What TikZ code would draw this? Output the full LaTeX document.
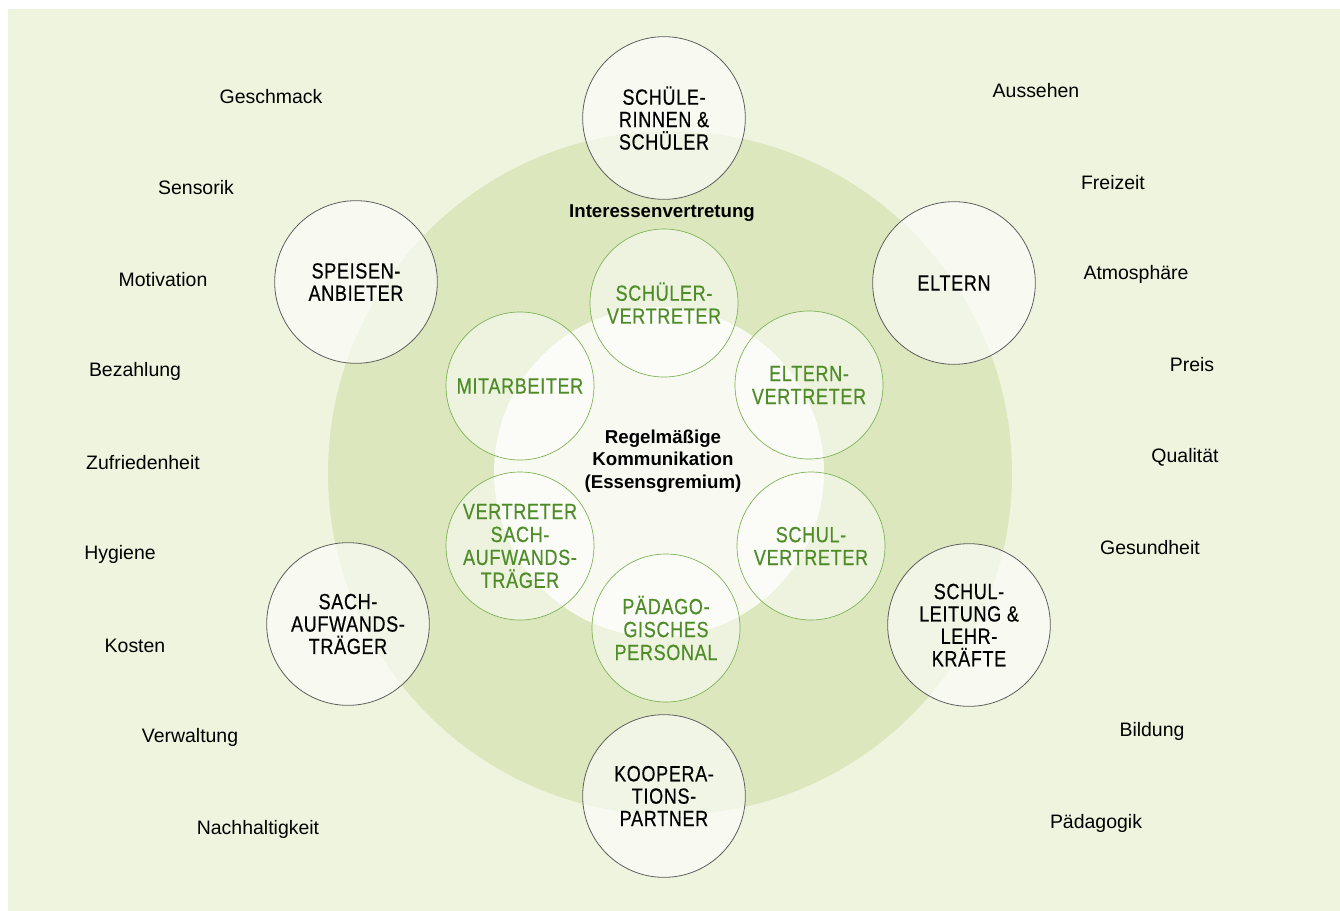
\documentclass[tikz,border=0pt]{standalone}
\usepackage{fontspec}
\setmainfont{Liberation Sans}
\newfontfamily\condfont{Liberation Sans}[FakeStretch=0.82,LetterSpace=3,FakeBold=0.4]
\definecolor{bg}{RGB}{239,244,222}
\definecolor{ring}{RGB}{220,231,190}
\definecolor{core}{RGB}{248,250,241}
\definecolor{grn}{RGB}{78,140,40}
\definecolor{grnline}{RGB}{125,175,85}
\definecolor{outline}{RGB}{95,95,95}
\begin{document}
\begin{tikzpicture}[x=0.75pt,y=-0.75pt,
 party/.style={circle, draw=outline, line width=0.6pt, fill=white, fill opacity=0.6, text opacity=1, minimum size=122pt, inner sep=0pt, align=center, font=\condfont\fontsize{16.5}{16.8}\selectfont, text=black},
 rep/.style={circle, draw=grnline, line width=0.5pt, fill=white, fill opacity=0.5, text opacity=1, minimum size=111pt, inner sep=0pt, align=center, font=\condfont\fontsize{16.5}{17.2}\selectfont, text=grn},
 topic/.style={font=\fontsize{14.6}{16}\selectfont, text=black, inner sep=0pt},
 head/.style={font=\bfseries\fontsize{14}{17}\selectfont, align=center, text=black, inner sep=0pt},
 zone/.style={circle, inner sep=0pt, draw=none}]
\useasboundingbox (0,0) rectangle (1340,911);
\fill[bg] (8,9) rectangle (1340,911);
% zones
\node[zone, fill=ring, minimum size=513pt] (ring) at (670,473) {};
\node[zone, fill=core, minimum size=247.5pt] (core) at (659,472) {};
% stakeholders
\node[party] (schueler) at (664,118) {SCHÜLE-\\RINNEN \&\\SCHÜLER};
\node[party] (speisen) at (356,282) {SPEISEN-\\ANBIETER};
\node[party] (eltern) at (954,283) {ELTERN};
\node[party] (sach) at (348,624) {SACH-\\AUFWANDS-\\TRÄGER};
\node[party] (schulltg) at (969,625) {SCHUL-\\LEITUNG \&\\LEHR-\\KRÄFTE};
\node[party] (koop) at (664,796) {KOOPERA-\\TIONS-\\PARTNER};
% representatives
\node[rep] (svt) at (664,303) {SCHÜLER-\\VERTRETER};
\node[rep] (mit) at (520,386) {MITARBEITER};
\node[rep] (evt) at (809,385) {ELTERN-\\VERTRETER};
\node[rep] (vsa) at (520,546) {VERTRETER\\SACH-\\AUFWANDS-\\TRÄGER};
\node[rep] (schvt) at (811,546) {SCHUL-\\VERTRETER};
\node[rep] (paed) at (666,628) {PÄDAGO-\\GISCHES\\PERSONAL};
% headings
\node[head] (interessen) at (662,213) {Interessenvertretung};
\node[head] (gremium) at (663,461) {Regelmäßige\\Kommunikation\\(Essensgremium)};
% topics left
\node[topic] (t1) at (271,97) {Geschmack};
\node[topic] (t2) at (196,188) {Sensorik};
\node[topic] (t3) at (163,280) {Motivation};
\node[topic] (t4) at (135,371) {Bezahlung};
\node[topic] (t5) at (143,463) {Zufriedenheit};
\node[topic] (t6) at (120,554) {Hygiene};
\node[topic] (t7) at (135,646) {Kosten};
\node[topic] (t8) at (190,737) {Verwaltung};
\node[topic] (t9) at (258,829) {Nachhaltigkeit};
% topics right
\node[topic] (r1) at (1036,91) {Aussehen};
\node[topic] (r2) at (1113,183) {Freizeit};
\node[topic] (r3) at (1136,274) {Atmosphäre};
\node[topic] (r4) at (1192,365) {Preis};
\node[topic] (r5) at (1185,457) {Qualität};
\node[topic] (r6) at (1150,548) {Gesundheit};
\node[topic] (r7) at (1152,731) {Bildung};
\node[topic] (r8) at (1096,823) {Pädagogik};
\end{tikzpicture}
\end{document}
